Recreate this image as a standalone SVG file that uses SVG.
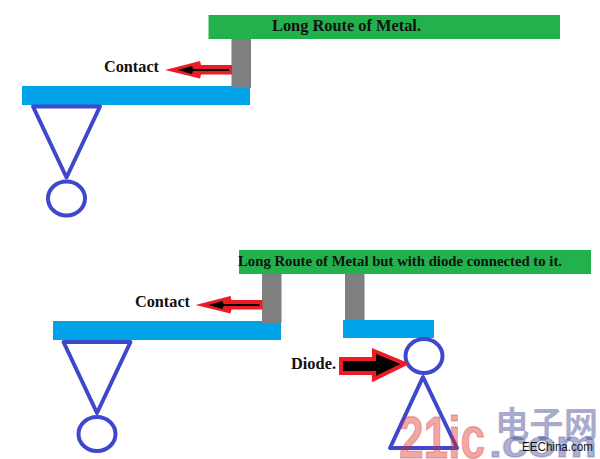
<svg xmlns="http://www.w3.org/2000/svg" width="600" height="459" viewBox="0 0 600 459">
  <style>
    .metal { fill: #22b14c; }
    .via { fill: #7f7f7f; }
    .poly { fill: #00a2e8; }
    .gate { fill: none; stroke: #3f48cc; stroke-width: 4; stroke-linejoin: round; }
    .label { font-family: "Liberation Serif", "Times New Roman", serif; font-weight: bold; font-size: 16px; fill: #111; }
    .arrow { fill: #ed1c24; }
    .mark-red { font-family: "Liberation Sans", Arial, sans-serif; font-weight: bold; fill: #d9302c; fill-opacity: .42; }
    .mark-blue { font-family: "Noto Sans CJK SC", "Liberation Sans", sans-serif; font-weight: bold; fill: #3c3f8f; fill-opacity: .45; }
    .mark-dot { font-family: "Liberation Sans", Arial, sans-serif; font-weight: bold; fill: #3c3f8f; fill-opacity: .42; stroke: #3c3f8f; stroke-opacity: .25; stroke-width: 1.500; }
  </style>
  <defs>
    <g id="contact-arrow">
      <path class="arrow" d="M0 0L35 -9L36 -5L67 -5L67 4.500L36 4.500L35 8.500Z"/>
      <path d="M13 0L27 -4L28 -1L64 -1L64 1L28 1L27 4Z" fill="#000"/>
    </g>
    <g id="transistor">
      <path class="gate" d="M1 0H68L34.500 71Z"/>
      <ellipse class="gate" cx="34.500" cy="92" rx="18.500" ry="17"/>
    </g>
  </defs>

  <g id="route-top">
    <rect class="poly" x="22" y="86" width="228" height="19"/>
    <rect class="via" x="231.500" y="39" width="19.500" height="49"/>
    <rect class="metal" x="208.500" y="15" width="351.500" height="24"/>
    <text class="label" x="272" y="31" textLength="149" lengthAdjust="spacingAndGlyphs">Long Route of Metal.</text>
  </g>
  <g id="gate-top"><use href="#transistor" x="32" y="106.500"/></g>
  <g id="contact-top">
    <text class="label" x="104" y="72" textLength="55" lengthAdjust="spacingAndGlyphs">Contact</text>
  </g>

  <g id="route-bottom">
    <rect class="poly" x="53" y="321" width="228" height="19"/>
    <rect class="via" x="262" y="274" width="19.500" height="49"/>
    <rect class="via" x="345" y="274" width="19.500" height="47"/>
    <rect class="metal" x="239" y="250" width="352" height="24"/>
    <text class="label" x="238" y="266" style="font-size:15px" textLength="324" lengthAdjust="spacingAndGlyphs">Long Route of Metal but with diode connected to it.</text>
  </g>
  <g id="gate-bottom"><use href="#transistor" x="62.500" y="342"/></g>
  <g id="contact-bottom">
    <text class="label" x="135" y="307" textLength="55" lengthAdjust="spacingAndGlyphs">Contact</text>
  </g>

  <g id="diode">
    <rect class="poly" x="343" y="320" width="91" height="18"/>
    <ellipse class="gate" cx="424" cy="356" rx="18.500" ry="17"/>
    <path class="gate" d="M423 377L390 448H457Z"/>
  </g>
  <g id="diode-label">
    <text class="label" x="291" y="369" textLength="45" lengthAdjust="spacingAndGlyphs">Diode.</text>
  </g>

  <g id="connectors">
    <use href="#contact-arrow" x="165" y="70"/>
    <use href="#contact-arrow" x="195.500" y="305"/>
    <path d="M341 359H374V351L405 364L374 379V373H341Z" fill="#000" stroke="#ed1c24" stroke-width="4"/>
  </g>

  <g id="site-mark">
    <text class="mark-red" x="399" y="458" font-size="60" stroke="#d9302c" stroke-opacity=".3" stroke-width="1.500" textLength="86" lengthAdjust="spacingAndGlyphs">21ic</text>
    <text class="mark-blue" x="495" y="437" font-size="35" textLength="103" lengthAdjust="spacingAndGlyphs">电子网</text>
    <text class="mark-dot" x="489" y="457" font-size="36" textLength="108" lengthAdjust="spacingAndGlyphs">.com</text>
    <text x="522" y="451" font-family="'Liberation Sans', Arial, sans-serif" font-size="12" fill="#111" textLength="71" lengthAdjust="spacingAndGlyphs">EEChina.com</text>
  </g>
</svg>
